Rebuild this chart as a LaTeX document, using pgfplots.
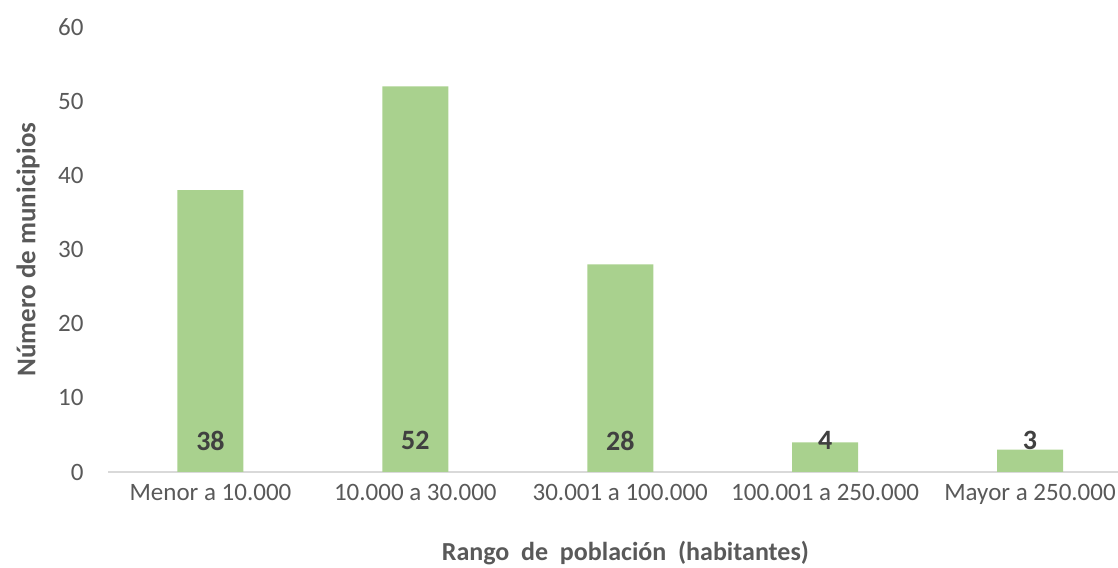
\documentclass[border=0pt]{standalone}
\usepackage{fontspec}
\setmainfont{Carlito}
\usepackage{pgfplots}
\pgfplotsset{compat=1.18}
\usetikzlibrary{calc}
\definecolor{bargreen}{HTML}{A9D18E}
\definecolor{txtgray}{HTML}{595959}
\definecolor{valgray}{HTML}{404040}
\definecolor{linegray}{HTML}{D9D9D9}
\begin{document}
\begin{tikzpicture}
\begin{axis}[
    name=ax,
    at={(0,0)}, anchor=south west,
    scale only axis,
    width=1024.5pt, height=445pt,
    xmin=-0.5, xmax=4.5,
    ymin=0, ymax=60,
    ytick={0,10,...,60},
    xtick=data,
    xticklabels={Menor a 10.000, 10.000 a 30.000, 30.001 a 100.000, 100.001 a 250.000, Mayor a 250.000},
    axis x line*=bottom,
    axis y line*=left,
    x axis line style={draw=linegray, line width=1.2pt},
    y axis line style={draw=none},
    major tick length=0pt,
    tick label style={font=\fontsize{25}{30}\selectfont, text=txtgray},
    /pgf/number format/assume math mode=true,
    yticklabel style={xshift=-21pt},
    xticklabel style={yshift=-9pt},
    xlabel={Rango\ \ de\ \ población\ \ (habitantes)},
    ylabel={Número de municipios},
    label style={font=\fontsize{26}{30}\selectfont\bfseries, text=txtgray},
    xlabel style={at={(axis description cs:0.505,0)}, anchor=center, yshift=-81pt},
    ylabel style={at={(axis description cs:-0.078,0.5)}, anchor=center, font=\fontsize{27}{30}\selectfont\bfseries},
    clip=false,
]
\addplot[ybar, bar width=66pt, fill=bargreen, draw=none]
    coordinates {(0,38) (1,52) (2,28) (3,4) (4,3)};
\addplot[draw=none, mark=none, nodes near coords, point meta=explicit symbolic,
    every node near coord/.append style={anchor=center, font=\fontsize{28}{30}\selectfont\bfseries, text=valgray}]
    coordinates {(0,4.2)[38] (1,4.2)[52] (2,4.2)[28] (3,4.2)[4] (4,4.2)[3]};
\end{axis}
\pgfresetboundingbox
\path[use as bounding box] ($(ax.south west)+(-108pt,-95pt)$) rectangle ($(ax.north east)+(-14.5pt,27pt)$);
\end{tikzpicture}
\end{document}
